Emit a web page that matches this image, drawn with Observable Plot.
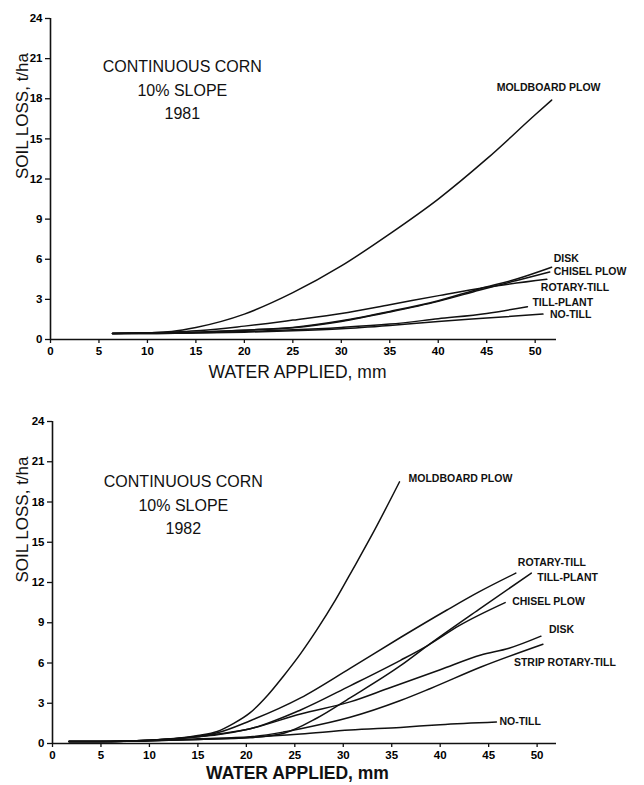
<!DOCTYPE html>
<html>
<head>
<meta charset="utf-8">
<script src="https://cdn.jsdelivr.net/npm/d3@7"></script>
<script src="https://cdn.jsdelivr.net/npm/@observablehq/plot@0.6"></script>
<style>
  html, body { margin: 0; padding: 0; background: #fff; }
  #chart svg { display: block; }
</style>
</head>
<body>
<div id="chart"></div>
<script>
// ---------- DATA ----------
const xTicks = [0, 5, 10, 15, 20, 25, 30, 35, 40, 45, 50];
const yTicks = [0, 3, 6, 9, 12, 15, 18, 21, 24];
const titleLines1981 = ["CONTINUOUS CORN", "10% SLOPE", "1981"];
const titleLines1982 = ["CONTINUOUS CORN", "10% SLOPE", "1982"];
const yLabel = "SOIL LOSS, t/ha";
const xLabel = "WATER APPLIED, mm";

// 1981
const names1981 = ["MOLDBOARD PLOW", "DISK", "CHISEL PLOW", "ROTARY-TILL", "TILL-PLANT", "NO-TILL"];
const x81Moldboard = [6.4, 10, 12.5, 15, 20, 25, 30, 35, 40, 45, 50, 51.7];
const y81Moldboard = [0.45, 0.5, 0.6, 0.9, 1.9, 3.5, 5.5, 7.9, 10.5, 13.5, 16.8, 17.9];
const x81Disk = [6.4, 10, 15, 20, 25, 30, 35, 40, 44.3, 48, 51.7];
const y81Disk = [0.45, 0.5, 0.55, 0.7, 0.9, 1.4, 2.1, 2.9, 3.8, 4.5, 5.4];
const x81Chisel = [6.4, 10, 15, 20, 25, 30, 35, 40, 44.3, 48, 51.5];
const y81Chisel = [0.45, 0.48, 0.55, 0.7, 0.88, 1.35, 2.05, 2.85, 3.7, 4.4, 5.05];
const x81Rotary = [6.4, 10, 15.5, 20, 22.4, 25, 30, 35, 40.2, 45, 51.2];
const y81Rotary = [0.45, 0.5, 0.67, 1.0, 1.2, 1.45, 1.95, 2.6, 3.3, 3.9, 4.5];
const x81TillPlant = [6.4, 10, 15, 20, 25, 30, 35, 40, 45, 49.2];
const y81TillPlant = [0.45, 0.45, 0.5, 0.6, 0.72, 0.9, 1.15, 1.55, 1.95, 2.45];
const x81NoTill = [6.4, 10, 15, 20, 25, 30, 35, 40, 45, 50.8];
const y81NoTill = [0.45, 0.45, 0.48, 0.55, 0.65, 0.8, 1.05, 1.35, 1.6, 1.9];

// 1982
const names1982 = ["MOLDBOARD PLOW", "ROTARY-TILL", "TILL-PLANT", "CHISEL PLOW", "DISK", "STRIP ROTARY-TILL", "NO-TILL"];
const x82Moldboard = [1.7, 5, 10, 15, 17, 18.7, 20.4, 22.2, 23.8, 25.6, 27.3, 29.2, 31, 33, 35.8];
const y82Moldboard = [0.15, 0.15, 0.25, 0.6, 0.9, 1.5, 2.3, 3.6, 5.0, 6.7, 8.5, 10.7, 13.0, 15.6, 19.5];
const x82Rotary = [1.7, 5, 10, 15, 17, 20.4, 25.6, 30.7, 35.9, 40.7, 44, 47.8];
const y82Rotary = [0.15, 0.15, 0.25, 0.55, 0.8, 1.7, 3.4, 5.6, 7.9, 9.95, 11.3, 12.7];
const x82TillPlant = [1.7, 5, 10, 15, 20.4, 23.8, 27.3, 30.7, 35.9, 38.7, 44, 49.4];
const y82TillPlant = [0.15, 0.15, 0.2, 0.3, 0.45, 0.75, 1.9, 3.4, 5.8, 7.3, 10.0, 12.7];
const x82Chisel = [1.7, 5, 10, 15, 17, 20.4, 25.6, 30.7, 35.9, 38.7, 42, 46.7];
const y82Chisel = [0.15, 0.15, 0.25, 0.5, 0.7, 1.1, 2.5, 4.3, 6.2, 7.3, 8.8, 10.5];
const x82Disk = [1.7, 5, 10, 15, 17, 20.4, 25.6, 30.7, 34.6, 40, 44.2, 47.1, 50.4];
const y82Disk = [0.15, 0.15, 0.25, 0.5, 0.65, 1.1, 2.2, 3.1, 4.1, 5.5, 6.6, 7.1, 8.0];
const x82Strip = [1.7, 5, 10, 15, 20.4, 23.8, 25.6, 30.7, 35.9, 39, 44.2, 50.6];
const y82Strip = [0.15, 0.15, 0.2, 0.35, 0.5, 0.85, 1.1, 1.95, 3.2, 4.1, 5.7, 7.4];
const x82NoTill = [1.7, 5, 10, 15, 20.4, 25.6, 30.7, 35.9, 40, 45.8];
const y82NoTill = [0.15, 0.15, 0.2, 0.3, 0.45, 0.7, 1.0, 1.2, 1.4, 1.6];

// ---------- build tables ----------
function table(name, xs, ys) { return xs.map((x, i) => ({name, x, y: ys[i]})); }
const series1981 = [
  table(names1981[0], x81Moldboard, y81Moldboard),
  table(names1981[1], x81Disk, y81Disk),
  table(names1981[2], x81Chisel, y81Chisel),
  table(names1981[3], x81Rotary, y81Rotary),
  table(names1981[4], x81TillPlant, y81TillPlant),
  table(names1981[5], x81NoTill, y81NoTill)
];
const series1982 = [
  table(names1982[0], x82Moldboard, y82Moldboard),
  table(names1982[1], x82Rotary, y82Rotary),
  table(names1982[2], x82TillPlant, y82TillPlant),
  table(names1982[3], x82Chisel, y82Chisel),
  table(names1982[4], x82Disk, y82Disk),
  table(names1982[5], x82Strip, y82Strip),
  table(names1982[6], x82NoTill, y82NoTill)
];

// label placement (style, not data)
const labelOffsets1981 = [[-55, -12], [2, -9], [4, 0], [-6, 8], [5, -4], [7, 1]];
const labelOffsets1982 = [[9, -3], [2, -10], [6, 5], [7, -1], [8, -7], [-29, 18], [3, 0]];

const FONT = "'Liberation Sans', Arial, Helvetica, sans-serif";

function chart({series, offsets, titleLines, height, marginTop, marginBottom, marginLeft, xMax, titleX, titleY, yLabelDx, xLabelDy, xLabelDx, xLabelWeight}) {
  const marks = [
    Plot.axisY({ticks: yTicks, tickSize: 5, tickPadding: 3, stroke: "#111", strokeWidth: 1.3, fill: "#000", label: null}),
    Plot.axisX({ticks: xTicks, tickSize: 4, tickPadding: 3, stroke: "#111", strokeWidth: 1.3, fill: "#000", label: null}),
    Plot.ruleY([0], {stroke: "#111", strokeWidth: 1.6}),
    Plot.ruleX([0], {stroke: "#111", strokeWidth: 1.6}),
    Plot.text([yLabel], {frameAnchor: "left", rotate: -90, dx: yLabelDx, fontSize: 17, fontWeight: "normal", fill: "#111"}),
    Plot.text([xLabel], {frameAnchor: "bottom", lineAnchor: "middle", dy: xLabelDy, dx: xLabelDx, fontSize: 17.5, fontWeight: xLabelWeight, fill: "#111"}),
    Plot.text([titleLines.join("\n")], {x: titleX, y: titleY, fontSize: 16, fontWeight: "normal", lineHeight: 1.47, fill: "#111"})
  ];
  series.forEach((s, i) => {
    marks.push(Plot.line(s, {x: "x", y: "y", curve: "monotone-x", stroke: "#111", strokeWidth: 1.5}));
    const last = s[s.length - 1];
    marks.push(Plot.text([last], {x: "x", y: "y", text: "name", textAnchor: "start", dx: offsets[i][0], dy: offsets[i][1], fontSize: 10.5, fontWeight: "bold", fill: "#111", style: "letter-spacing:0.6px"}));
  });
  return Plot.plot({
    width: 644,
    height,
    marginTop,
    marginBottom,
    marginLeft,
    marginRight: 88,
    x: {domain: [0, xMax], label: null},
    y: {domain: [0, 24], label: null},
    style: {fontFamily: FONT, fontSize: "11.5px", fontWeight: "bold", color: "#111", background: "#fff", overflow: "visible"},
    marks
  });
}

const el = document.getElementById("chart");
el.append(chart({series: series1981, offsets: labelOffsets1981, titleLines: titleLines1981,
  height: 392, marginTop: 18, marginBottom: 53, marginLeft: 50, xMax: 52.2,
  titleX: 13.6, titleY: 18.77, yLabelDx: -28, xLabelDy: 33, xLabelDx: -6, xLabelWeight: "normal"}));
el.append(chart({series: series1982, offsets: labelOffsets1982, titleLines: titleLines1982,
  height: 393, marginTop: 29, marginBottom: 42, marginLeft: 52, xMax: 52,
  titleX: 13.5, titleY: 17.9, yLabelDx: -30, xLabelDy: 30, xLabelDx: -7, xLabelWeight: "bold"}));
</script>
</body>
</html>
